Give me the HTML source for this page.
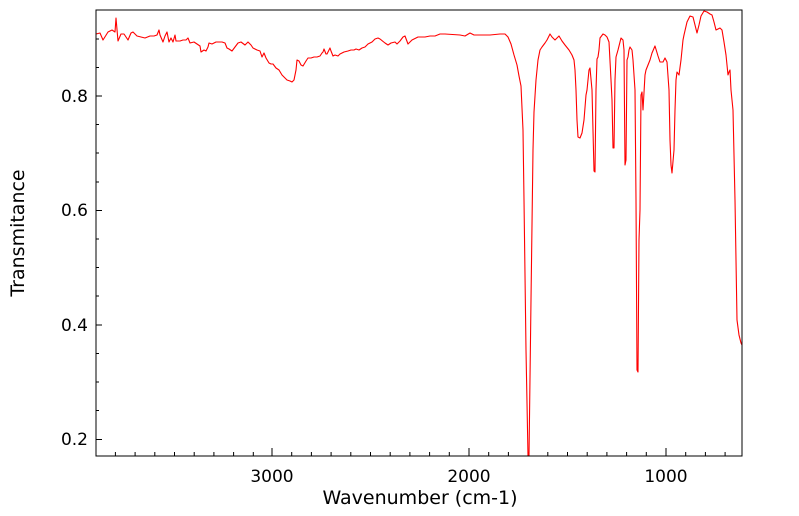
<!DOCTYPE html>
<html><head><meta charset="utf-8"><style>
html,body{margin:0;padding:0;background:#fff}
svg{display:block;font-family:"DejaVu Sans","Liberation Sans",sans-serif}
</style></head><body>
<svg width="799" height="516" viewBox="0 0 799 516" xmlns="http://www.w3.org/2000/svg">
<rect x="0" y="0" width="799" height="516" fill="#fff"/>
<g stroke="#000" stroke-width="1">
<path d="M96,96h6M96,210.5h6M96,325h6M96,439.5h6" />
<path d="M96,39h3M96,67.5h3M96,124.5h3M96,153h3M96,182h3M96,239h3M96,267.5h3M96,296h3M96,353.5h3M96,382h3M96,410.5h3" />
<path d="M272,456v-8M469,456v-8M666,456v-8"/>
<path d="M115.4,456v-4M135.1,456v-4M154.8,456v-4M174.5,456v-4M194.2,456v-4M213.9,456v-4M233.6,456v-4M253.3,456v-4M291.7,456v-4M311.4,456v-4M331.1,456v-4M350.8,456v-4M370.5,456v-4M390.2,456v-4M409.9,456v-4M429.6,456v-4M449.3,456v-4M488.7,456v-4M508.4,456v-4M528.1,456v-4M547.8,456v-4M567.5,456v-4M587.2,456v-4M606.9,456v-4M626.6,456v-4M646.3,456v-4M685.7,456v-4M705.4,456v-4M725.1,456v-4"/>
</g>
<polyline fill="none" stroke="#ff0000" stroke-width="1.1" stroke-linejoin="round" points="96,34 100,33 103,40 108,32 112,30 115,32 116,18 118,41 121,34 124,34 128,40 131,33 133,32 137,36 141,37 145,38 150,36 154,36 157,35 159,30 160,35 163,42 165,36 167,32 169,42 171,38 173,42 175,35 176,41 180,41 183,40 186,40 188,38 190,43 194,42 197,44 200,46 201,52 204,50 206,51 208,47 209,43 212,44 216,42 222,42 225,43 227,48 229,49 232,51 235,47 238,43 241,42 245,45 248,42 251,45 253,48 257,50 260,51 262,57 264,53 266,58 269,63 271,64 273,64 276,68 279,70 282,75 285,78 287,80 290,81 292,82 294,80 296,70 297,60 299,61 301,65 303,66 306,61 308,58 311,58 314,57 317,57 320,56 322,53 323,52 324,49 326,54 327,54 329,50 330,48 331,51 333,56 335,55 338,56 340,54 344,52 348,51 351,50 354,50 356,49 359,50 362,48 365,47 368,44 372,42 375,39 378,38 380,39 385,43 388,45 391,43 395,42 397,44 400,41 403,37 405,36 408,44 412,40 418,37 425,37 430,36 435,36 440,34 445,34 460,35 465,36 470,33 474,35 480,35 490,35 500,34 505,34 508,37 511,44 514,55 517,65 519,76 521,86 523,130 524,200 526,350 528,456 529,456 531,300 533,150 534,112 536,80 538,60 540,50 542,47 545,43 547,40 549,36 550,34 552,37 555,40 557,38 559,36 562,41 565,45 569,50 572,55 574,60 575,70 576,90 577,120 578,137 580,138 582,133 584,120 586,95 587,90 589,70 590,68 592,90 594,171 595,172 596,90 597,59 598,57 599,50 600,38 603,34 605,35 607,37 609,42 611,80 612,100 613,148 614,148 615,80 616,57 618,50 620,42 621,38 623,40 624,50 625,165 626,160 627,60 628,57 629,50 630,47 632,50 633,60 635,90 636,200 637,370 638,372 639,240 640,210 641,95 642,92 643,110 645,75 646,70 648,65 650,60 652,53 655,46 658,56 660,62 663,62 665,58 667,62 669,90 670,140 671,165 672,173 674,150 675,110 676,80 677,72 679,75 681,60 683,40 684,35 687,22 690,16 693,17 695,25 697,33 699,25 701,16 704,11 707,12 710,14 712,15 714,22 716,30 718,29 720,28 722,30 724,42 726,55 727,65 728,75 729,72 730,70 731,90 733,110 735,200 737,320 739,335 741,343 742,345"/>
<rect x="96" y="10" width="646" height="446" fill="none" stroke="#000" stroke-width="1"/>
<g font-size="17" fill="#000" text-anchor="end">
<text x="88" y="102">0.8</text>
<text x="88" y="216">0.6</text>
<text x="88" y="331">0.4</text>
<text x="88" y="445">0.2</text>
</g>
<g font-size="17" fill="#000" text-anchor="middle">
<text x="272" y="482">3000</text>
<text x="469" y="482">2000</text>
<text x="666" y="482">1000</text>
</g>
<g font-size="19" fill="#000" text-anchor="middle">
<text x="420" y="504">Wavenumber (cm-1)</text>
<text transform="translate(24,233) rotate(-90)">Transmitance</text>
</g>
</svg>
</body></html>
